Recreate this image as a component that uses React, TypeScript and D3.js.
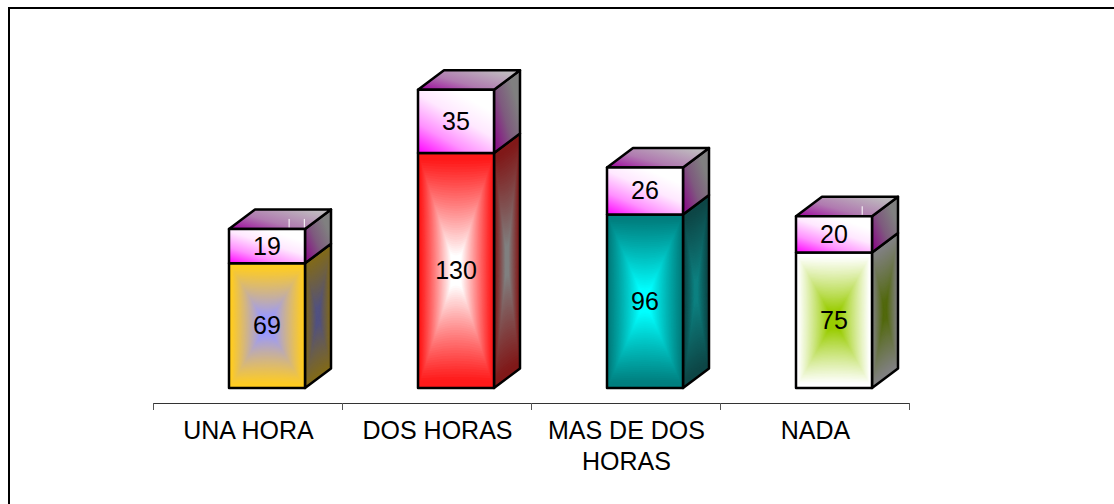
import React from "react";
import * as d3 from "d3";

const categories = ["UNA HORA", "DOS HORAS", "MAS DE DOS HORAS", "NADA"];
const labelLines = [["UNA HORA"], ["DOS HORAS"], ["MAS DE DOS", "HORAS"], ["NADA"]];
const lowerValues = [69, 130, 96, 75];
const upperValues = [19, 35, 26, 20];
const edgeColors = ["#ffcc22", "#ff1a1a", "#007f7f", "#ffffff"];
const centerColors = ["#9999ff", "#ffffff", "#00ffff", "#99cc00"];
const whiteMarks = [[0.62, 0.82], [], [], [0.7]];

const W = 1114, H = 504;
const DX = 26, DY = -19.5;
const baseY = 388;
const x = d3.scaleBand<string>().domain(categories).range([153, 909]).padding(0);
const y = d3.scaleLinear().domain([0, 130]).range([baseY, 153]);
const BAR_W = 76;
const BAR_SHIFT = 19.5;

function shade(c: string, k: number) {
  const r = d3.rgb(c);
  const o = 128 * (0.5 - k) * 2;
  return d3.rgb(r.r * k + o, r.g * k + o, r.b * k + o).formatHex();
}

// Nested pinched rectangles approximate a rectangular "path" gradient
function StarGrad({ x0, y0, w, h, edge, center, skew = 0 }: any) {
  const n = 48;
  const interp = d3.interpolateRgb(edge, center);
  const steps = d3.range(n, 0, -1).map((i) => i / n);
  return (
    <g transform={`matrix(1 ${skew} 0 1 ${x0} ${y0})`}>
      <rect x={0} y={0} width={w} height={h} fill={edge} />
      {steps.map((t) => {
        const cx = w / 2, cy = h / 2;
        const hw = (w / 2) * t, hh = (h / 2) * t;
        const pull = (1 - t) * 0.28;
        const l = cx - hw, r = cx + hw, tp = cy - hh, b = cy + hh;
        const p = d3.path();
        p.moveTo(l, tp);
        p.quadraticCurveTo(cx, tp + hh * pull, r, tp);
        p.quadraticCurveTo(r - hw * pull, cy, r, b);
        p.quadraticCurveTo(cx, b - hh * pull, l, b);
        p.quadraticCurveTo(l + hw * pull, cy, l, tp);
        p.closePath();
        const u = Math.min(1, Math.max(0, (0.95 - t) / 0.8));
        return <path key={t} d={p.toString()} fill={interp(u)} />;
      })}
    </g>
  );
}

export default function App() {
  return (
    <svg width={W} height={H} style={{ position: "absolute", left: 0, top: 0, background: "#fff" }}>
      <defs>
        <linearGradient id="capFront" x1="0" y1="1" x2="0.62" y2="0.1">
          <stop offset="0" stopColor="#ff00ff" />
          <stop offset="0.35" stopColor="#ff90ff" />
          <stop offset="0.7" stopColor="#ffe8ff" />
          <stop offset="1" stopColor="#ffffff" />
        </linearGradient>
        <linearGradient id="capTop" x1="0" y1="1" x2="1" y2="0.3">
          <stop offset="0.05" stopColor="#a010a0" />
          <stop offset="0.45" stopColor="#b07ab0" />
          <stop offset="1" stopColor="#bebabe" />
        </linearGradient>
        <linearGradient id="capSide" x1="0" y1="1" x2="1" y2="0.1">
          <stop offset="0.1" stopColor="#8a1088" />
          <stop offset="0.45" stopColor="#7e5a7e" />
          <stop offset="0.8" stopColor="#808080" />
        </linearGradient>
      </defs>
      <line x1={8} x2={1114} y1={8} y2={8} stroke="#000" strokeWidth={2} />
      <line x1={9} x2={9} y1={7} y2={504} stroke="#000" strokeWidth={2} />
      {categories.map((c, i) => {
        const bandMid = x(c)! + x.bandwidth() / 2;
        const cx = bandMid + BAR_SHIFT;
        const x0 = cx - BAR_W / 2, x1 = x0 + BAR_W;
        const ySplit = y(lowerValues[i]);
        const yTop = y(lowerValues[i] + upperValues[i]);
        const sideLow = `M${x1},${baseY}L${x1 + DX},${baseY + DY}L${x1 + DX},${ySplit + DY}L${x1},${ySplit}Z`;
        const sideCap = `M${x1},${ySplit}L${x1 + DX},${ySplit + DY}L${x1 + DX},${yTop + DY}L${x1},${yTop}Z`;
        const top = `M${x0},${yTop}L${x0 + DX},${yTop + DY}L${x1 + DX},${yTop + DY}L${x1},${yTop}Z`;
        const stroke = { stroke: "#000", strokeWidth: 2.5, strokeLinejoin: "round" as const };
        return (
          <g key={c}>
            <StarGrad x0={x1} y0={ySplit} w={DX} h={baseY - ySplit} skew={DY / DX} edge={shade(edgeColors[i], 0.45)} center={shade(centerColors[i], 0.45)} />
            <path d={sideLow} fill="none" {...stroke} />
            <StarGrad x0={x0} y0={ySplit} w={BAR_W} h={baseY - ySplit} edge={edgeColors[i]} center={centerColors[i]} />
            <rect x={x0} y={ySplit} width={BAR_W} height={baseY - ySplit} fill="none" {...stroke} />
            <path d={sideCap} fill="url(#capSide)" {...stroke} />
            <path d={top} fill="url(#capTop)" {...stroke} />
            {whiteMarks[i].map((m) => (
              <line key={m} x1={x0 + DX * 0.5 + BAR_W * m} x2={x0 + DX * 0.5 + BAR_W * m} y1={yTop - 1.5} y2={yTop - 10} stroke="#fff" strokeWidth={1} />
            ))}
            <rect x={x0} y={yTop} width={BAR_W} height={ySplit - yTop} fill="url(#capFront)" {...stroke} />
            <text x={cx} y={(baseY + ySplit) / 2 + 8.5} textAnchor="middle" fontFamily="Liberation Sans" fontSize={25} fill="#000">{lowerValues[i]}</text>
            <text x={cx} y={(ySplit + yTop) / 2 + 8.5} textAnchor="middle" fontFamily="Liberation Sans" fontSize={25} fill="#000">{upperValues[i]}</text>
            {labelLines[i].map((t, k) => (
              <text key={t} x={bandMid + 1} y={439 + k * 31} textAnchor="middle" fontFamily="Liberation Sans" fontSize={25} fill="#000">{t}</text>
            ))}
          </g>
        );
      })}
      <line x1={153} x2={909} y1={403.5} y2={403.5} stroke="#333" strokeWidth={1} />
      {[...categories.map((c) => x(c)!), 909].map((t) => (
        <line key={t} x1={t + 0.5} x2={t + 0.5} y1={403} y2={410} stroke="#555" strokeWidth={1} />
      ))}
    </svg>
  );
}
